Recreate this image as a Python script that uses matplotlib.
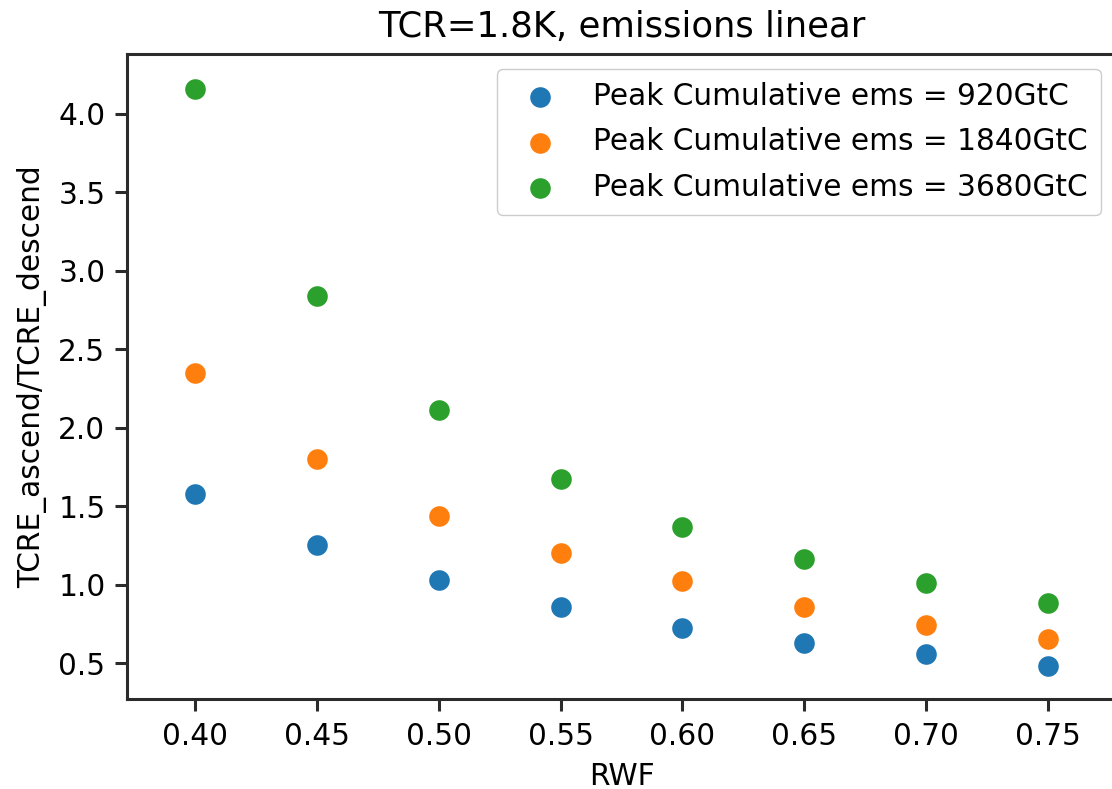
import matplotlib
matplotlib.use("Agg")
import matplotlib.pyplot as plt

rwf = [0.40, 0.45, 0.50, 0.55, 0.60, 0.65, 0.70, 0.75]

ratio_920 = [1.58, 1.25, 1.03, 0.86, 0.72, 0.63, 0.56, 0.48]
ratio_1840 = [2.35, 1.80, 1.44, 1.20, 1.02, 0.86, 0.74, 0.65]
ratio_3680 = [4.16, 2.84, 2.11, 1.67, 1.37, 1.16, 1.01, 0.88]

labels = [
    "Peak Cumulative ems = 920GtC",
    "Peak Cumulative ems = 1840GtC",
    "Peak Cumulative ems = 3680GtC",
]

fig = plt.figure(figsize=(11.12, 7.89), dpi=100)
ax = fig.add_axes([127 / 1112, 1 - 699 / 789, (1116 - 127) / 1112, (699 - 54) / 789])

for vals, lab in zip([ratio_920, ratio_1840, ratio_3680], labels):
    ax.scatter(rwf, vals, s=220, linewidths=0, label=lab)

ax.set_xlim(0.3721, 0.7779)
ax.set_ylim(0.2705, 4.3825)
ax.set_xticks(rwf)
ax.set_xticklabels(["%.2f" % v for v in rwf])
ax.set_yticks([0.5, 1.0, 1.5, 2.0, 2.5, 3.0, 3.5, 4.0])

ax.tick_params(labelsize=21.3, length=8.5, width=2.2, color="#2b2b2b", pad=8)
ax.tick_params(axis="y", pad=7)
for sp in ax.spines.values():
    sp.set_linewidth(2.2)
    sp.set_color("#2b2b2b")

ax.set_xlabel("RWF", fontsize=21.3, labelpad=8)
ax.set_ylabel("TCRE_ascend/TCRE_descend", fontsize=21.3, labelpad=8)
ax.set_title("TCR=1.8K, emissions linear", fontsize=25.5, pad=12)

ax.legend(loc="upper right", fontsize=21.3, labelspacing=0.55, borderpad=0.45,
          edgecolor="#cccccc", framealpha=1)

fig.savefig("out.png", dpi=100)
